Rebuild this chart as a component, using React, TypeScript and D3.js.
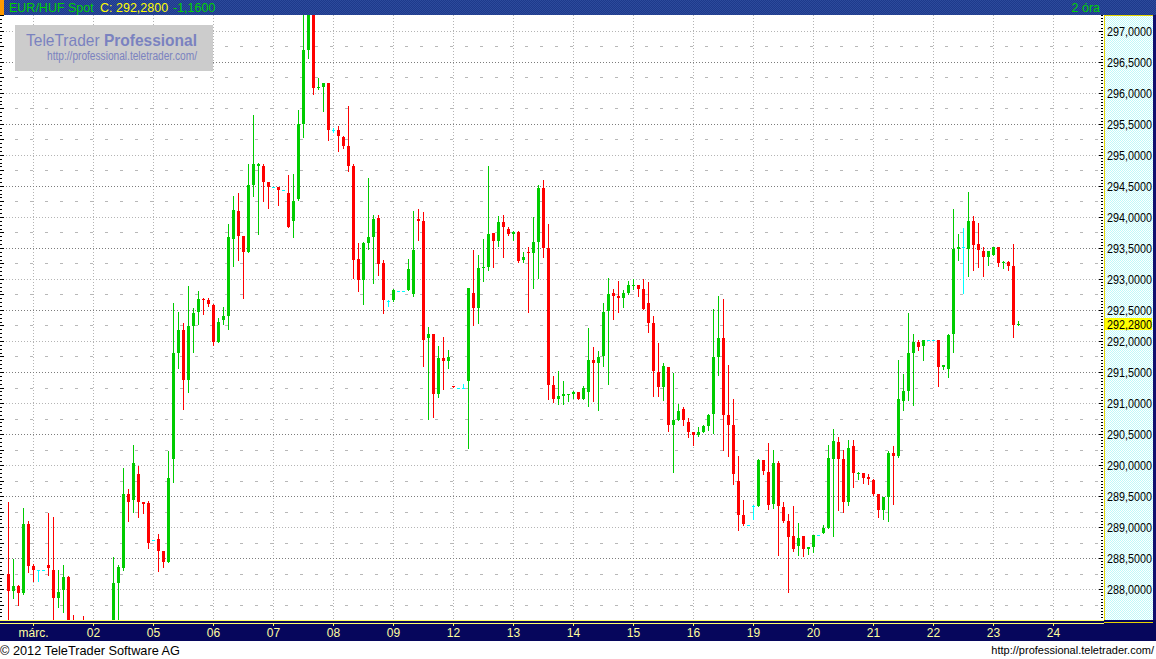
import React from 'react';
import * as d3 from 'd3';

// ---- data (2-hour candles, EUR/HUF) ----
const opens = [
  288.24, 287.97, 288.05, 287.94, 289.05, 288.37, 288.31, 288.31, 288.39, 288.31,
  287.86, 287.98, 288.19, 287.30, 287.20, 287.10, 287.05, 287.20, 287.10, 287.25,
  287.15, 287.30, 288.10, 288.34, 289.54, 289.43, 289.86, 289.41, 289.39, 288.80,
  288.81, 288.61, 288.44, 290.10, 291.80, 292.18, 291.37, 292.24, 292.46, 292.68,
  292.66, 292.58, 291.98, 292.34, 292.40, 293.64, 294.09, 293.69, 293.44, 294.52,
  294.82, 294.82, 294.56, 294.48, 294.48, 294.44, 294.39, 293.93, 294.28, 295.50,
  296.69, 297.35, 296.08, 296.09, 296.15, 295.40, 295.40, 295.29, 295.14, 294.82,
  293.32, 292.98, 293.58, 293.67, 293.98, 293.25, 292.65, 292.66, 292.81, 292.81,
  292.82, 292.76, 293.97, 293.93, 292.04, 292.11, 291.14, 291.73, 291.67, 291.27,
  291.25, 291.25, 291.35, 292.78, 292.53, 293.17, 293.19, 293.74, 293.61, 293.92,
  293.80, 293.72, 293.75, 293.30, 293.44, 293.41, 293.59, 294.47, 293.50, 291.29,
  291.06, 291.12, 291.13, 291.14, 291.17, 291.06, 291.17, 291.70, 291.64, 291.75,
  292.48, 292.77, 292.73, 292.70, 292.77, 292.88, 292.90, 292.83, 292.61, 292.29,
  291.50, 291.26, 291.58, 290.64, 290.72, 290.90, 290.70, 290.53, 290.48, 290.54,
  290.63, 290.82, 291.74, 292.04, 290.80, 290.64, 289.74, 289.19, 289.04, 289.34,
  289.34, 290.08, 289.89, 289.37, 290.04, 289.32, 289.10, 288.85, 288.70, 288.85,
  288.65, 288.68, 288.87, 288.90, 288.98, 290.10, 290.37, 290.10, 289.40, 290.30,
  289.86, 289.87, 289.81, 289.76, 289.53, 289.27, 289.49, 290.20, 290.14, 291.04,
  291.20, 291.80, 291.98, 291.92, 292.01, 292.01, 292.01, 291.58, 291.55, 292.11,
  293.49, 293.52, 293.49, 293.93, 293.56, 293.45, 293.36, 293.39, 293.51, 293.25,
  293.27, 293.21, 292.26,
];
const highs = [
  289.40, 288.48, 288.07, 289.31, 289.10, 288.40, 288.31, 288.31, 289.23, 289.16,
  288.31, 288.39, 288.21, 287.58, 287.40, 287.57, 287.30, 287.40, 287.35, 287.45,
  287.40, 288.52, 288.39, 289.95, 289.62, 290.33, 289.99, 289.41, 289.42, 288.80,
  288.89, 288.61, 290.22, 292.62, 292.46, 292.29, 292.88, 292.53, 292.80, 292.70,
  292.70, 292.60, 292.37, 292.55, 293.89, 294.33, 294.39, 293.69, 294.85, 295.64,
  294.86, 294.85, 294.56, 294.48, 294.48, 294.44, 294.67, 294.69, 295.73, 297.45,
  297.60, 297.50, 296.23, 296.15, 296.15, 295.43, 295.46, 295.31, 295.79, 294.85,
  293.58, 293.60, 294.62, 294.03, 294.03, 293.30, 292.66, 292.83, 292.81, 292.81,
  293.32, 294.09, 294.12, 294.08, 292.22, 292.11, 291.92, 292.06, 291.86, 291.27,
  291.25, 291.30, 292.85, 293.47, 293.38, 293.65, 294.82, 293.74, 294.01, 294.03,
  293.83, 293.78, 293.77, 293.44, 293.52, 293.99, 294.51, 294.59, 293.88, 291.43,
  291.51, 291.35, 291.15, 291.20, 291.18, 291.27, 292.21, 291.90, 291.84, 292.62,
  293.02, 292.83, 292.96, 292.82, 292.97, 293.00, 292.90, 293.00, 292.95, 292.41,
  291.96, 291.64, 291.58, 291.48, 290.98, 290.93, 290.76, 290.54, 290.61, 290.64,
  290.82, 292.51, 292.73, 292.68, 291.62, 291.07, 290.14, 289.44, 289.04, 289.35,
  290.10, 290.09, 290.36, 290.25, 290.06, 289.41, 289.21, 289.34, 289.06, 288.85,
  288.68, 288.87, 288.87, 289.04, 290.33, 290.58, 290.45, 290.24, 290.41, 290.41,
  289.89, 289.87, 289.85, 289.77, 289.54, 289.48, 290.22, 290.31, 291.70, 291.47,
  292.45, 292.11, 292.01, 292.01, 292.01, 292.01, 292.01, 291.61, 292.12, 294.12,
  293.72, 293.82, 294.40, 294.01, 293.90, 293.51, 293.45, 293.52, 293.51, 293.29,
  293.29, 293.56, 292.32,
];
const lows = [
  287.35, 287.86, 287.75, 287.92, 288.27, 288.14, 288.14, 288.31, 288.23, 287.40,
  287.72, 287.64, 287.20, 287.10, 287.00, 286.95, 286.90, 287.00, 286.95, 287.05,
  287.00, 287.25, 287.45, 288.31, 289.10, 289.24, 289.16, 289.23, 288.66, 288.80,
  288.30, 288.36, 288.44, 289.72, 291.56, 290.91, 291.18, 291.83, 292.27, 292.44,
  292.57, 291.93, 291.98, 292.27, 292.19, 293.21, 293.30, 292.69, 293.44, 294.34,
  293.72, 294.26, 294.15, 294.48, 294.19, 294.44, 293.83, 293.67, 294.27, 295.28,
  296.56, 295.98, 296.06, 295.70, 295.24, 295.37, 295.06, 295.11, 294.74, 293.02,
  292.81, 292.59, 293.49, 292.93, 293.06, 292.45, 292.57, 292.65, 292.81, 292.81,
  292.82, 292.72, 293.63, 291.59, 290.74, 290.78, 291.09, 291.23, 291.56, 291.26,
  291.25, 291.25, 290.27, 292.26, 292.29, 292.97, 293.14, 293.19, 293.53, 293.36,
  293.70, 293.63, 293.27, 293.27, 292.46, 292.85, 293.01, 293.36, 291.06, 291.01,
  290.98, 290.98, 291.04, 291.08, 291.06, 291.06, 290.96, 291.03, 290.89, 291.59,
  291.31, 292.35, 292.47, 292.54, 292.75, 292.83, 292.72, 292.51, 292.14, 291.11,
  291.11, 291.05, 290.55, 289.89, 290.72, 290.64, 290.45, 290.33, 290.47, 290.53,
  290.57, 290.51, 291.45, 290.25, 290.14, 289.69, 288.95, 289.04, 289.04, 289.13,
  289.34, 289.85, 289.30, 289.31, 288.55, 289.09, 287.96, 288.62, 288.55, 288.54,
  288.57, 288.60, 288.87, 288.90, 288.98, 288.85, 289.27, 289.24, 289.35, 289.65,
  289.77, 289.71, 289.70, 289.51, 289.16, 289.13, 289.10, 289.38, 290.13, 290.89,
  291.05, 290.97, 291.86, 291.70, 292.01, 292.01, 291.27, 291.55, 291.42, 291.83,
  293.30, 292.78, 293.05, 293.14, 293.19, 293.05, 293.23, 293.39, 293.21, 293.18,
  293.15, 292.07, 292.25,
];
const closes = [
  287.97, 288.05, 287.94, 289.05, 288.37, 288.31, 288.31, 288.31, 288.34, 287.86,
  287.96, 288.20, 287.30, 287.20, 287.10, 287.05, 287.20, 287.10, 287.25, 287.15,
  287.30, 288.10, 288.35, 289.54, 289.40, 290.03, 289.40, 289.38, 288.75, 288.80,
  288.61, 288.44, 289.79, 291.80, 292.18, 291.37, 292.24, 292.45, 292.68, 292.66,
  292.60, 291.99, 292.30, 292.40, 293.67, 294.11, 293.69, 293.44, 294.52, 294.85,
  294.85, 294.56, 294.48, 294.48, 294.44, 294.44, 293.84, 294.26, 295.50, 296.69,
  297.40, 296.08, 296.09, 296.15, 295.40, 295.40, 295.31, 295.15, 294.82, 293.30,
  292.98, 293.58, 293.67, 293.97, 293.24, 292.66, 292.65, 292.82, 292.81, 292.81,
  293.16, 293.46, 293.93, 292.02, 292.11, 291.14, 291.73, 291.67, 291.74, 291.26,
  291.25, 291.25, 292.85, 292.53, 293.17, 293.19, 293.72, 293.61, 293.92, 293.83,
  293.72, 293.75, 293.29, 293.36, 293.41, 293.59, 294.46, 293.50, 291.29, 291.06,
  291.12, 291.14, 291.14, 291.18, 291.06, 291.25, 291.70, 291.64, 291.74, 292.46,
  292.76, 292.73, 292.70, 292.77, 292.90, 292.90, 292.83, 292.51, 292.29, 291.51,
  291.26, 291.59, 290.64, 290.72, 290.87, 290.72, 290.53, 290.48, 290.54, 290.63,
  290.81, 291.74, 292.04, 290.80, 290.64, 289.85, 289.20, 289.05, 289.04, 289.34,
  290.08, 289.91, 289.36, 290.03, 289.34, 289.10, 288.84, 288.65, 288.83, 288.65,
  288.68, 288.87, 288.87, 288.98, 290.11, 290.39, 290.10, 289.40, 290.27, 289.87,
  289.88, 289.79, 289.77, 289.54, 289.27, 289.48, 290.20, 290.15, 291.07, 291.19,
  291.80, 291.98, 291.90, 292.01, 292.01, 292.01, 291.58, 291.61, 292.10, 293.49,
  293.52, 293.52, 293.93, 293.54, 293.46, 293.36, 293.45, 293.51, 293.26, 293.28,
  293.21, 292.26, 292.28,
];
// first candle sits 5 two-hour slots before 1 March 00:00
const firstSlot = -5;
const slotsPerDay = 12;
const dayLabels = ['márc.', '02', '05', '06', '07', '08', '09', '12', '13', '14', '15', '16', '19', '20', '21', '22', '23', '24'];
const priceLabels = [288, 288.5, 289, 289.5, 290, 290.5, 291, 291.5, 292, 292.5, 293, 293.5, 294, 294.5, 295, 295.5, 296, 296.5, 297];
const lastPrice = 292.28;
const changeText = '-1,1600';
const titleText = 'EUR/HUF Spot';
const periodText = '2 óra';

const FONT = '"Liberation Sans", Arial, sans-serif';
const UP = '#00cc00';
const DOWN = '#ff0000';
const DOJI = '#00ffff';

const fmt = (v: number) => v.toFixed(4).replace('.', ',');

export default function App() {
  const W = 1156, H = 659;
  const plotR = 1103, plotT = 15, plotB = 620;
  const y = d3.scaleLinear().domain([288, 297]).range([589.2, 30.7]);
  const x = d3.scaleLinear().domain([0, slotsPerDay]).range([33.33, 93.33]);
  const py = (v: number) => Math.round(y(v));

  const majorLevels = d3.range(287.5, 297.01, 0.5);
  const quarterLevels = d3.range(287.75, 296.8, 0.5);
  const dayXs = dayLabels.map((_, d) => Math.floor(x(d * slotsPerDay)));
  const dashXs = d3.range(-2, 72).map(k => Math.floor(x(k * 3)));

  const rightTicks = d3.range(0, 196).map(k => 287.5 + k * 0.05);
  const leftTicks = d3.range(0, 157).map(k => 287.5 + k * 0.0625);

  const candles = opens.map((o, i) => {
    const c = closes[i];
    const cx = Math.floor(x(firstSlot + i));
    const color = c > o ? UP : c < o ? DOWN : DOJI;
    const top = py(Math.max(o, c));
    const bot = py(Math.min(o, c));
    const wt = py(highs[i]);
    const wb = py(lows[i]);
    return (
      <g key={i} fill={color}>
        <rect x={cx} y={wt} width={1} height={Math.max(1, wb - wt + 1)} />
        <rect x={cx - 1} y={top} width={3} height={Math.max(1, bot - top)} />
      </g>
    );
  });

  const lastY = py(lastPrice);

  return (
    <div style={{ position: 'absolute', left: 0, top: 0 }}>
      <svg width={W} height={H} style={{ display: 'block', fontFamily: FONT }}>
        <defs>
          <pattern id="hdr" width={2} height={2} patternUnits="userSpaceOnUse">
            <rect width={2} height={2} fill="#1d3a8b" />
            <rect x={0} y={0} width={1} height={1} fill="#2d4a9c" />
            <rect x={1} y={1} width={1} height={1} fill="#2d4a9c" />
          </pattern>
          <pattern id="cyan" width={2} height={2} patternUnits="userSpaceOnUse">
            <rect width={2} height={2} fill="#ffffff" />
            <rect x={0} y={0} width={1} height={1} fill="#bff9f9" />
            <rect x={1} y={1} width={1} height={1} fill="#bff9f9" />
          </pattern>
          <clipPath id="plotClip">
            <rect x={0} y={plotT} width={plotR} height={plotB - plotT} />
          </clipPath>
        </defs>

        <rect x={0} y={0} width={W} height={H} fill="#ffffff" />

        {/* plot grid */}
        <g shapeRendering="crispEdges">
          {dayXs.map((dx, i) => (
            <line key={'v' + i} x1={dx + 0.5} x2={dx + 0.5} y1={plotT} y2={plotB} stroke="#b4b4b4" strokeDasharray="1,2" />
          ))}
          {majorLevels.map((v, i) => (
            <line key={'h' + i} x1={0} x2={plotR} y1={py(v) + 0.5} y2={py(v) + 0.5}
              stroke={Math.abs(v % 1 - 0.5) < 0.01 ? '#7c7c7c' : '#b4b4b4'} strokeDasharray="1,2" />
          ))}
          {quarterLevels.map((v, i) => (
            <g key={'q' + i} fill="#b8b8b8">
              {dashXs.map((dx, j) => (
                <rect key={j} x={dx - 3} y={py(v)} width={3} height={1} />
              ))}
            </g>
          ))}
        </g>

        {/* candles */}
        <g clipPath="url(#plotClip)" shapeRendering="crispEdges">{candles}</g>

        {/* left edge ticks */}
        <g fill="#000" shapeRendering="crispEdges">
          {leftTicks.map((v, i) => (
            <rect key={i} x={0} y={py(v)} width={Math.abs((v * 4) % 1) < 0.01 ? 4 : 2} height={1} />
          ))}
        </g>

        {/* logo watermark */}
        <rect x={15} y={25} width={198} height={46} fill="#cccccc" />
        <text x={26} y={46} fontSize={17} fill="#7a82c0" textLength={171} lengthAdjust="spacingAndGlyphs">
          TeleTrader <tspan fontWeight="bold">Professional</tspan>
        </text>
        <text x={47} y={60} fontSize={12} fill="#7a82c0" textLength={150} lengthAdjust="spacingAndGlyphs">
          http://professional.teletrader.com/
        </text>

        {/* header */}
        <rect x={0} y={0} width={W} height={15} fill="url(#hdr)" />
        <rect x={0} y={0} width={4} height={15} fill="#ff9900" />
        <text x={9} y={12} fontSize={12.5} fill="#00d000">{titleText}</text>
        <text x={100} y={12} fontSize={12.5} fill="#ffff00">{'C: ' + fmt(lastPrice)}</text>
        <text x={173} y={12} fontSize={12.5} fill="#00d000">{changeText}</text>
        <text x={1100} y={12} fontSize={12.5} fill="#00d000" textAnchor="end">{periodText}</text>

        {/* right axis panel */}
        <rect x={1104} y={15} width={49} height={608} fill="url(#cyan)" />
        <rect x={1104} y={15} width={49} height={1} fill="#e8d400" />
        <rect x={1104} y={15} width={1} height={608} fill="#e8d400" />
        <rect x={1153} y={15} width={3} height={626} fill="#10106e" />
        <g fill="#000" shapeRendering="crispEdges">
          {rightTicks.map((v, i) => {
            const major = Math.abs((v * 2) % 1) < 0.01 || Math.abs((v * 2) % 1 - 1) < 0.01;
            const len = major ? 4 : 2;
            return <rect key={i} x={plotR - len} y={py(v)} width={len} height={1} />;
          })}
        </g>
        {priceLabels.map((v, i) => (
          <text key={i} x={1107} y={py(v) + 4.5} fontSize={12} fill="#000" textLength={45} lengthAdjust="spacingAndGlyphs">
            {fmt(v)}
          </text>
        ))}
        <rect x={1105} y={lastY - 6} width={47} height={12} fill="#ffff00" />
        <text x={1107} y={lastY + 4.5} fontSize={12} fill="#000" textLength={45} lengthAdjust="spacingAndGlyphs">
          {fmt(lastPrice)}
        </text>

        {/* bottom time axis */}
        <rect x={0} y={plotB} width={W} height={21} fill="#06065c" />
        <rect x={0} y={plotB} width={1104} height={1} fill="#ffff66" />
        <rect x={0} y={plotB + 3} width={1104} height={1} fill="#ffff66" />
        <rect x={1104} y={622} width={49} height={1} fill="#e8d400" />
        {dayXs.map((dx, i) => (
          <g key={i}>
            <rect x={dx} y={plotB + 4} width={1} height={2} fill="#ffff66" />
            <text x={dx + 0.5} y={637} fontSize={12} fill="#ffffa0" textAnchor="middle">{dayLabels[i]}</text>
          </g>
        ))}

        {/* footer */}
        <text x={0} y={654.5} fontSize={13} fill="#000" textLength={180} lengthAdjust="spacingAndGlyphs">© 2012 TeleTrader Software AG</text>
        <text x={1154} y={654} fontSize={11} fill="#000" textAnchor="end">http://professional.teletrader.com/</text>
      </svg>
    </div>
  );
}
